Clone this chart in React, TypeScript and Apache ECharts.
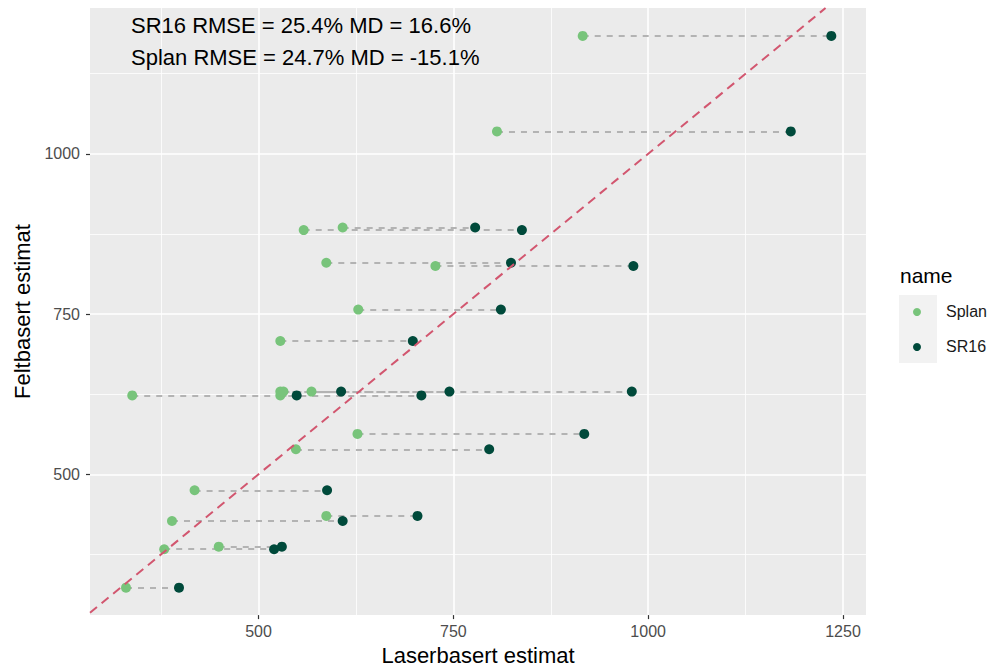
import React, { useEffect, useRef } from "react";
import * as echarts from "echarts";

// Feltbasert estimat (y) for each stand, with the two laser-based estimates (x)
const feltbasert = [1184, 1035, 881, 885, 830, 825, 757, 708, 623, 623, 629, 629, 629, 563, 539, 475, 435, 427, 387, 383, 323];
const splan = [916, 806, 558, 608, 587, 727, 628, 528, 338, 528, 528, 568, 532, 627, 548, 418, 587, 389, 449, 379, 330];
const sr16 = [1235, 1183, 838, 778, 824, 981, 811, 698, 709, 549, 979, 606, 745, 918, 796, 588, 704, 608, 530, 520, 398];

const xTicks = [500, 750, 1000, 1250];
const yTicks = [500, 750, 1000];
const xMinor = [375, 625, 875, 1125];
const yMinor = [375, 625, 875, 1125];
const annotations = ["SR16 RMSE = 25.4% MD = 16.6%", "Splan RMSE = 24.7% MD = -15.1%"];
const seriesNames = ["Splan", "SR16"];
const legendTitle = "name";

const X_MIN = 283.8;
const X_MAX = 1279.5;
const Y_MIN = 280.2;
const Y_MAX = 1227.6;

const FONT = "'Liberation Sans', Arial, Helvetica, sans-serif";
const C_SPLAN = "#78c47b";
const C_SR16 = "#004a3b";

export default function App() {
  const ref = useRef<HTMLDivElement>(null);

  useEffect(() => {
    if (!ref.current) return;
    const chart = echarts.init(ref.current, undefined, { renderer: "svg" });

    const vLines = (vals: number[]) => vals.map((v) => ({ coords: [[v, Y_MIN], [v, Y_MAX]] }));
    const hLines = (vals: number[]) => vals.map((v) => ({ coords: [[X_MIN, v], [X_MAX, v]] }));
    const plain = (v: number) => String(Math.round(v));

    const option: any = {
      animation: false,
      backgroundColor: "#ffffff",
      textStyle: { fontFamily: FONT },
      grid: {
        left: 90,
        right: 127,
        top: 8,
        bottom: 54,
        show: true,
        backgroundColor: "#ebebeb",
        borderWidth: 0,
      },
      xAxis: {
        type: "value",
        min: X_MIN,
        max: X_MAX,
        name: "Laserbasert estimat",
        nameLocation: "middle",
        nameGap: 28,
        nameTextStyle: { fontSize: 22, color: "#000", fontFamily: FONT },
        axisLine: { show: false },
        axisTick: { show: true, customValues: xTicks, length: 4, lineStyle: { color: "#333", width: 1.2 } },
        axisLabel: { customValues: xTicks, formatter: plain, color: "#4d4d4d", fontSize: 16, margin: 8, fontFamily: FONT },
        splitLine: { show: false },
      },
      yAxis: {
        type: "value",
        min: Y_MIN,
        max: Y_MAX,
        name: "Feltbasert estimat",
        nameLocation: "middle",
        nameGap: 56,
        nameRotate: 90,
        nameTextStyle: { fontSize: 22, color: "#000", fontFamily: FONT },
        axisLine: { show: false },
        axisTick: { show: true, customValues: yTicks, length: 4, lineStyle: { color: "#333", width: 1.2 } },
        axisLabel: { customValues: yTicks, formatter: plain, color: "#4d4d4d", fontSize: 16, margin: 10, fontFamily: FONT },
        splitLine: { show: false },
      },
      series: [
        {
          type: "lines",
          coordinateSystem: "cartesian2d",
          silent: true,
          z: 1,
          lineStyle: { color: "#ffffff", width: 0.8, opacity: 1, type: "solid" },
          data: [...vLines(xMinor), ...hLines(yMinor)],
        },
        {
          type: "lines",
          coordinateSystem: "cartesian2d",
          silent: true,
          z: 1,
          lineStyle: { color: "#ffffff", width: 1.6, opacity: 1, type: "solid" },
          data: [...vLines(xTicks), ...hLines(yTicks)],
        },
        {
          type: "lines",
          coordinateSystem: "cartesian2d",
          silent: true,
          z: 2,
          lineStyle: { color: "#b3b3b3", width: 1.8, opacity: 1, type: [6, 6] },
          data: feltbasert.map((y, i) => ({ coords: [[splan[i], y], [sr16[i], y]] })),
        },
        {
          name: seriesNames[0],
          type: "scatter",
          z: 3,
          symbolSize: 10,
          itemStyle: { color: C_SPLAN, opacity: 1 },
          data: feltbasert.map((y, i) => [splan[i], y]),
        },
        {
          name: seriesNames[1],
          type: "scatter",
          z: 3,
          symbolSize: 10,
          itemStyle: { color: C_SR16, opacity: 1 },
          data: feltbasert.map((y, i) => [sr16[i], y]),
        },
        {
          type: "lines",
          coordinateSystem: "cartesian2d",
          silent: true,
          z: 4,
          lineStyle: { color: "#d2566f", width: 2, opacity: 1, type: [9, 6] },
          data: [{ coords: [[X_MIN, X_MIN], [Y_MAX, Y_MAX]] }],
        },
      ],
      graphic: [
        {
          type: "text",
          left: 131,
          top: 14,
          z: 10,
          style: { text: annotations[0], fontSize: 22, fill: "#000", fontFamily: FONT },
        },
        {
          type: "text",
          left: 131,
          top: 46,
          z: 10,
          style: { text: annotations[1], fontSize: 22, fill: "#000", fontFamily: FONT },
        },
        {
          type: "text",
          left: 900,
          top: 265,
          style: { text: legendTitle, fontSize: 21, fill: "#000", fontFamily: FONT },
        },
        {
          type: "rect",
          shape: { x: 899, y: 295, width: 38, height: 68 },
          style: { fill: "#f2f2f2" },
        },
        { type: "circle", shape: { cx: 917, cy: 312, r: 4 }, style: { fill: C_SPLAN } },
        { type: "circle", shape: { cx: 917, cy: 347, r: 4 }, style: { fill: C_SR16 } },
        {
          type: "text",
          left: 946,
          top: 303,
          style: { text: seriesNames[0], fontSize: 16, fill: "#1a1a1a", fontFamily: FONT },
        },
        {
          type: "text",
          left: 946,
          top: 338,
          style: { text: seriesNames[1], fontSize: 16, fill: "#1a1a1a", fontFamily: FONT },
        },
      ],
    };

    chart.setOption(option);
    return () => chart.dispose();
  }, []);

  return (
    <div
      ref={ref}
      style={{ position: "fixed", left: 0, top: 0, width: 993, height: 671, background: "#fff" }}
    />
  );
}
